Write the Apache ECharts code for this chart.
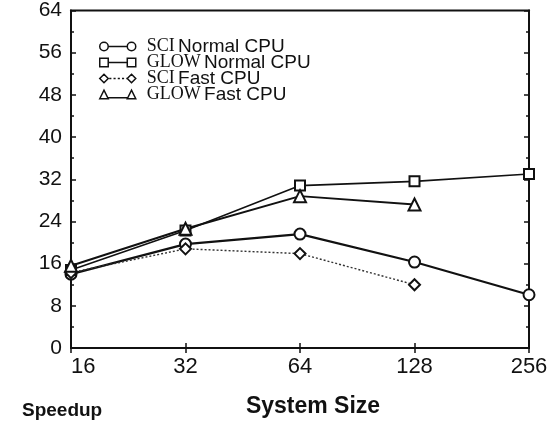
<!DOCTYPE html>
<html>
<head>
<meta charset="utf-8">
<script src="https://cdn.jsdelivr.net/npm/echarts@6/dist/echarts.min.js"></script>
<style>
  html, body { margin: 0; padding: 0; background: #fff; }
  #chart { width: 559px; height: 423px; }
</style>
</head>
<body>
<div id="chart"></div>
<script>
// system sizes (x) and speedup values (y)
const sizes = [16, 32, 64, 128, 256];
const sciNormal = [14.0, 19.7, 21.6, 16.3, 10.1];
const glowNormal = [14.8, 22.3, 30.8, 31.6, 33.0];
const sciFast = [14.3, 18.8, 17.9, 12.0];
const glowFast = [15.6, 22.6, 28.8, 27.2];
const yTicks = [0, 8, 16, 24, 32, 40, 48, 56, 64];

function pairs(ys) {
  return ys.map((v, i) => [sizes[i], v]);
}

const ink = '#111';

// legend icons: marker - line - marker
const iconCircle = 'path://M1 5A4 4 0 1 1 9 5A4 4 0 1 1 1 5ZM9 5L27 5M27 5A4 4 0 1 1 35 5A4 4 0 1 1 27 5Z';
const iconSquare = 'path://M1 1L9 1L9 9L1 9ZM9 5L27 5M27 1L35 1L35 9L27 9Z';
const iconDiamond = 'path://M5 1L9 5L5 9L1 5ZM10 5L12 5M14 5L16 5M18 5L20 5M22 5L24 5M26 5L27 5M31 1L35 5L31 9L27 5Z';
const iconTriangle = 'path://M1 9L5 1L9 9ZM9 8L27 8M27 9L31 1L35 9Z';

const chart = echarts.init(document.getElementById('chart'));

const serifRich = {
  sc: { fontFamily: 'Liberation Serif', fontSize: 18, color: ink },
  tx: { fontFamily: 'Liberation Sans', fontSize: 19, color: ink }
};

const option = {
  animation: false,
  backgroundColor: '#fff',
  grid: { left: 71, right: 30, top: 10, bottom: 72, show: true, borderColor: ink, borderWidth: 2 },
  title: {
    text: 'Speedup',
    left: 17,
    top: 396,
    textStyle: { fontFamily: 'Liberation Sans', fontWeight: 'bold', fontSize: 19, color: ink }
  },
  legend: {
    orient: 'vertical',
    left: 94,
    top: 32,
    itemWidth: 36,
    itemHeight: 10,
    itemGap: -3,
    selectedMode: false,
    itemStyle: { color: 'transparent', borderColor: ink, borderWidth: 1.5 },
    textStyle: { padding: [0, 0, 0, 6], rich: serifRich },
    formatter: function (name) {
      const parts = name.split(' ');
      return '{sc|' + parts[0] + '} {tx|' + parts.slice(1).join(' ') + '}';
    },
    data: [
      { name: 'SCI Normal CPU', icon: iconCircle },
      { name: 'GLOW Normal CPU', icon: iconSquare },
      { name: 'SCI Fast CPU', icon: iconDiamond },
      { name: 'GLOW Fast CPU', icon: iconTriangle }
    ]
  },
  xAxis: [
    {
      type: 'log',
      logBase: 2,
      min: sizes[0],
      max: sizes[sizes.length - 1],
      name: 'System Size',
      nameLocation: 'middle',
      nameGap: 47,
      nameTextStyle: {
        fontFamily: 'Liberation Sans', fontWeight: 'bold', fontSize: 23, color: ink,
        padding: [0, 0, 0, 26]
      },
      axisLine: { lineStyle: { color: ink, width: 2 } },
      axisTick: { inside: true, length: 5, lineStyle: { color: ink, width: 1.5 } },
      axisLabel: {
        margin: 8,
        fontFamily: 'Liberation Sans',
        fontSize: 22,
        color: ink,
        alignMinLabel: 'left',
        formatter: v => String(Math.round(v))
      },
      splitLine: { show: false }
    },
    {
      type: 'log',
      logBase: 2,
      min: sizes[0],
      max: sizes[sizes.length - 1],
      position: 'top',
      axisLine: { lineStyle: { color: ink, width: 2 } },
      axisTick: { inside: true, length: 5, lineStyle: { color: ink, width: 1.5 } },
      axisLabel: { show: false },
      splitLine: { show: false }
    }
  ],
  yAxis: [
    {
      type: 'value',
      min: yTicks[0],
      max: yTicks[yTicks.length - 1],
      interval: 8,
      axisLine: { show: true, lineStyle: { color: ink, width: 2 } },
      axisTick: { show: true, inside: true, length: 5, lineStyle: { color: ink, width: 1.5 } },
      minorTick: { show: true, splitNumber: 2, length: 3, lineStyle: { color: ink, width: 1.5 } },
      axisLabel: { margin: 9, fontFamily: 'Liberation Sans', fontSize: 21, color: ink },
      splitLine: { show: false }
    },
    {
      type: 'value',
      position: 'right',
      min: yTicks[0],
      max: yTicks[yTicks.length - 1],
      interval: 8,
      axisLine: { show: true, lineStyle: { color: ink, width: 2 } },
      axisTick: { show: true, inside: true, length: 5, lineStyle: { color: ink, width: 1.5 } },
      minorTick: { show: true, splitNumber: 2, length: 3, lineStyle: { color: ink, width: 1.5 } },
      axisLabel: { show: false },
      splitLine: { show: false }
    }
  ],
  series: [
    {
      name: 'SCI Normal CPU',
      type: 'line',
      data: pairs(sciNormal),
      symbol: 'emptyCircle',
      symbolSize: 11,
      lineStyle: { color: ink, width: 2.2 },
      itemStyle: { color: ink, borderWidth: 1.8 },
      z: 3
    },
    {
      name: 'GLOW Normal CPU',
      type: 'line',
      data: pairs(glowNormal),
      symbol: 'emptyRect',
      symbolSize: 10,
      lineStyle: { color: ink, width: 1.6 },
      itemStyle: { color: ink, borderWidth: 1.5 },
      z: 3
    },
    {
      name: 'SCI Fast CPU',
      type: 'line',
      data: pairs(sciFast),
      symbol: 'emptyDiamond',
      symbolSize: 11,
      lineStyle: { color: '#333', width: 1.4, type: [2, 2] },
      itemStyle: { color: ink, borderWidth: 1.3 },
      z: 3
    },
    {
      name: 'GLOW Fast CPU',
      type: 'line',
      data: pairs(glowFast),
      symbol: 'emptyTriangle',
      symbolSize: 12,
      lineStyle: { color: ink, width: 2 },
      itemStyle: { color: ink, borderWidth: 1.6 },
      z: 3
    }
  ]
};

chart.setOption(option);
</script>
</body>
</html>
